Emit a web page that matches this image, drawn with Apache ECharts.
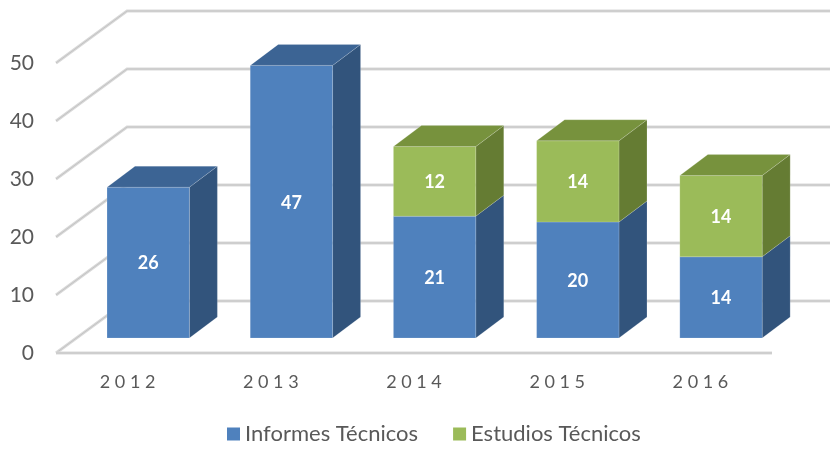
<!DOCTYPE html>
<html>
<head>
<meta charset="utf-8">
<script src="https://cdn.jsdelivr.net/npm/echarts@6/dist/echarts.min.js"></script>
<style>
  html, body { margin: 0; padding: 0; background: #fff; }
  #chart { width: 830px; height: 451px; }
</style>
</head>
<body>
<div id="chart"></div>
<script>
var years = ["2012", "2013", "2014", "2015", "2016"];
var informes = [26, 47, 21, 20, 14];
var estudios = [null, null, 12, 14, 14];
var yTicks = [0, 10, 20, 30, 40, 50];

// oblique projection offsets (px)
var WALL = [71, -52];   // full depth of floor / back wall
var FRONT = [20.6, -15]; // bar front plane
var DEPTH = [28, -21];   // bar depth
var BAR_RATIO = 0.575;

var chart = echarts.init(document.getElementById("chart"));

function gridItem(params, api) {
  var v = api.value(0);
  var p = api.coord([0, v]);
  var band = api.size([1, 0])[0];
  var x0 = p[0] - band / 2;
  var pts = [[x0, p[1]], [x0 + WALL[0], p[1] + WALL[1]], [840, p[1] + WALL[1]]];
  var children = [
    { type: "polyline", shape: { points: pts }, style: { stroke: "#d9d9d9", lineWidth: 3, fill: null } },
    { type: "polyline", shape: { points: pts }, style: { stroke: "#c3c3c3", lineWidth: 1, fill: null } }
  ];
  if (v === 0) {
    var xr = x0 + band * years.length;
    var fl = [[x0, p[1]], [xr, p[1]]];
    children.push(
      { type: "polyline", shape: { points: fl }, style: { stroke: "#d9d9d9", lineWidth: 3, fill: null } },
      { type: "polyline", shape: { points: fl }, style: { stroke: "#c3c3c3", lineWidth: 1, fill: null } }
    );
  }
  return { type: "group", children: children };
}

function makeBar(colors) {
  return function (params, api) {
    var i = api.value(0), base = api.value(1), top = api.value(2), isTop = api.value(3);
    if (top === base) return null;
    var c0 = api.coord([i, base]), c1 = api.coord([i, top]);
    var band = api.size([1, 0])[0];
    var w = band * BAR_RATIO;
    var x0 = c0[0] + FRONT[0] - w / 2, x1 = x0 + w;
    var yb = c0[1] + FRONT[1], yt = c1[1] + FRONT[1];
    var dx = DEPTH[0], dy = DEPTH[1];
    var edge = "rgba(255,255,255,0.25)";
    var children = [
      { type: "polygon", shape: { points: [[x1, yb], [x1 + dx, yb + dy], [x1 + dx, yt + dy], [x1, yt]] },
        style: { fill: colors.side, stroke: edge, lineWidth: 0.6 } },
      { type: "rect", shape: { x: x0, y: yt, width: w, height: yb - yt },
        style: { fill: colors.front, stroke: edge, lineWidth: 0.6 } }
    ];
    if (isTop) {
      children.push({ type: "polygon",
        shape: { points: [[x0, yt], [x0 + dx, yt + dy], [x1 + dx, yt + dy], [x1, yt]] },
        style: { fill: colors.top, stroke: edge, lineWidth: 0.6 } });
    }
    children.push({ type: "text", style: {
      text: String(top - base), x: (x0 + x1) / 2, y: (yt + yb) / 2 + 1,
      align: "center", verticalAlign: "middle", fill: "#ffffff",
      font: "bold 18px Lato, 'Noto Sans', sans-serif" } });
    return { type: "group", children: children };
  };
}

var blueData = informes.map(function (v, i) {
  return [i, 0, v, estudios[i] == null ? 1 : 0];
});
var greenData = estudios.map(function (v, i) {
  return v == null ? [i, informes[i], informes[i], 0] : [i, informes[i], informes[i] + v, 1];
});

chart.setOption({
  animation: false,
  textStyle: { fontFamily: "Lato, 'Noto Sans', sans-serif" },
  grid: { left: 56, right: 58, top: 63, bottom: 98 },
  legend: {
    bottom: 1,
    left: 222,
    icon: "rect",
    itemWidth: 13,
    itemHeight: 13,
    itemGap: 35,
    textStyle: { fontSize: 22, color: "#595959", fontFamily: "Lato, 'Noto Sans', sans-serif" },
    data: ["Informes Técnicos", "Estudios Técnicos"]
  },
  xAxis: {
    type: "category",
    data: years,
    axisLine: { show: false },
    axisTick: { show: false },
    axisLabel: {
      margin: 20,
      fontSize: 18,
      color: "#595959",
      formatter: function (v) { return v.split("").join(" "); }
    }
  },
  yAxis: {
    type: "value",
    min: 0,
    max: 50,
    interval: 10,
    axisLine: { show: false },
    axisTick: { show: false },
    splitLine: { show: false },
    axisLabel: { margin: 22, fontSize: 21, color: "#595959" }
  },
  series: [
    {
      type: "custom",
      name: "grid",
      silent: true,
      z: 1,
      renderItem: gridItem,
      data: yTicks.map(function (t) { return [t]; }),
      encode: { y: 0 }
    },
    {
      type: "custom",
      name: "Informes Técnicos",
      z: 2,
      itemStyle: { color: "#4f81bd" },
      renderItem: makeBar({ front: "#4f81bd", top: "#3c6494", side: "#32547c" }),
      data: blueData,
      encode: { x: 0, y: [1, 2] }
    },
    {
      type: "custom",
      name: "Estudios Técnicos",
      z: 3,
      itemStyle: { color: "#9bbb59" },
      renderItem: makeBar({ front: "#9bbb59", top: "#77923d", side: "#657c33" }),
      data: greenData,
      encode: { x: 0, y: [1, 2] }
    }
  ]
});
</script>
</body>
</html>
